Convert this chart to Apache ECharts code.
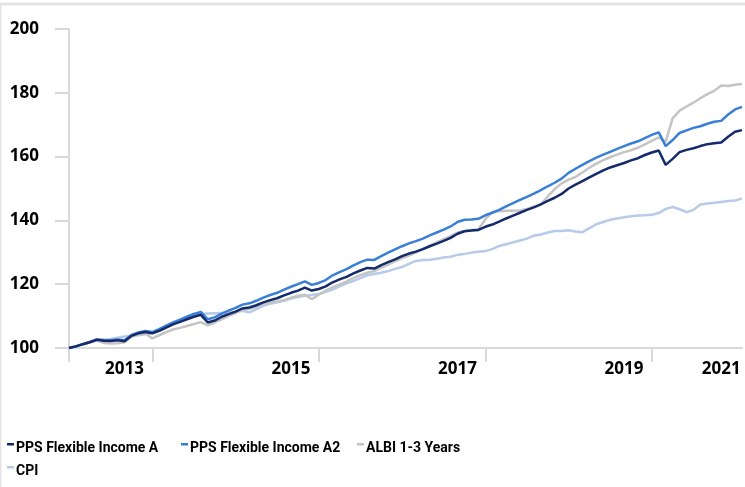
<!DOCTYPE html>
<html>
<head>
<meta charset="utf-8">
<script src="https://cdn.jsdelivr.net/npm/echarts@6/dist/echarts.min.js"></script>
<style>
html,body{margin:0;padding:0;background:#fff;}
#chart{width:745px;height:487px;}
</style>
</head>
<body>
<div id="chart"></div>
<script>
const months = [
'2013-01','2013-02','2013-03','2013-04','2013-05','2013-06','2013-07','2013-08','2013-09','2013-10','2013-11','2013-12',
'2014-01','2014-02','2014-03','2014-04','2014-05','2014-06','2014-07','2014-08','2014-09','2014-10','2014-11','2014-12',
'2015-01','2015-02','2015-03','2015-04','2015-05','2015-06','2015-07','2015-08','2015-09','2015-10','2015-11','2015-12',
'2016-01','2016-02','2016-03','2016-04','2016-05','2016-06','2016-07','2016-08','2016-09','2016-10','2016-11','2016-12',
'2017-01','2017-02','2017-03','2017-04','2017-05','2017-06','2017-07','2017-08','2017-09','2017-10','2017-11','2017-12',
'2018-01','2018-02','2018-03','2018-04','2018-05','2018-06','2018-07','2018-08','2018-09','2018-10','2018-11','2018-12',
'2019-01','2019-02','2019-03','2019-04','2019-05','2019-06','2019-07','2019-08','2019-09','2019-10','2019-11','2019-12',
'2020-01','2020-02','2020-03','2020-04','2020-05','2020-06','2020-07','2020-08','2020-09','2020-10','2020-11','2020-12',
'2021-01','2021-02'
];

const ppsA = [
100.0,100.5,101.2,101.8,102.6,102.3,102.2,102.4,102.1,103.8,104.6,105.0,
104.6,105.4,106.4,107.4,108.2,109.0,109.8,110.4,108.0,108.6,109.8,110.6,
111.4,112.4,112.7,113.4,114.3,115.0,115.6,116.5,117.3,118.0,118.9,118.0,
118.5,119.3,120.6,121.5,122.3,123.4,124.3,125.1,124.9,126.0,126.9,127.8,
128.8,129.6,130.2,131.0,131.9,132.7,133.6,134.5,135.8,136.6,136.8,137.0,
138.0,138.7,139.6,140.6,141.5,142.4,143.3,144.1,145.0,146.1,147.1,148.3,
150.0,151.2,152.3,153.5,154.6,155.7,156.6,157.3,158.0,158.8,159.5,160.5,
161.3,161.9,157.4,159.3,161.4,162.1,162.6,163.3,163.9,164.2,164.4,166.2,
167.8,168.3
];

const ppsA2 = [
100.0,100.5,101.2,101.9,102.7,102.5,102.4,102.7,102.4,104.1,104.9,105.3,
105.0,105.9,107.0,108.0,108.9,109.8,110.7,111.3,109.0,109.6,110.8,111.7,
112.6,113.6,114.0,114.8,115.8,116.6,117.3,118.3,119.2,120.0,120.9,119.8,
120.4,121.3,122.8,123.8,124.7,125.9,126.9,127.7,127.6,128.8,129.9,130.9,
131.9,132.8,133.5,134.3,135.3,136.2,137.1,138.1,139.5,140.2,140.3,140.5,
141.6,142.4,143.3,144.4,145.4,146.4,147.4,148.4,149.5,150.7,151.8,153.1,
154.9,156.2,157.4,158.6,159.7,160.6,161.5,162.4,163.3,164.1,164.8,165.8,
166.8,167.6,163.3,165.2,167.4,168.2,169.0,169.5,170.3,170.9,171.2,173.2,
174.8,175.6
];

const albi = [
100.0,100.6,101.3,101.9,102.4,101.6,101.4,101.5,101.8,103.5,104.3,104.6,
103.0,104.0,105.0,105.8,106.3,106.9,107.5,108.1,107.1,108.0,109.0,110.1,
110.9,112.0,112.3,113.0,113.9,114.4,114.6,115.0,115.8,116.4,116.7,115.3,
116.7,118.0,119.1,119.9,120.8,122.0,122.8,123.6,124.1,125.2,126.1,127.2,
128.2,129.0,130.0,131.0,132.1,133.1,134.1,135.1,136.2,136.7,137.0,137.2,
140.3,142.6,142.9,143.0,143.0,143.1,143.6,144.3,145.0,147.5,149.8,151.6,
152.8,153.6,155.0,156.5,157.8,158.9,159.8,160.6,161.4,162.0,162.8,163.8,
164.9,166.0,164.7,172.0,174.4,175.7,176.9,178.3,179.6,180.6,182.3,182.1,
182.5,182.8
];

const cpi = [
100.0,100.5,101.2,101.8,102.4,102.6,102.8,103.2,103.6,103.8,104.0,104.3,
104.8,105.6,106.7,107.6,108.5,109.4,110.2,110.6,110.8,110.9,111.0,111.1,
111.3,111.7,111.2,112.2,113.2,113.9,114.3,114.8,115.5,116.0,116.4,116.6,
116.9,117.6,118.3,119.3,120.3,121.0,121.9,122.8,123.2,123.6,124.1,124.8,
125.4,126.4,127.3,127.6,127.7,128.0,128.4,128.6,129.2,129.5,129.9,130.2,
130.4,131.0,132.0,132.5,133.1,133.7,134.3,135.2,135.6,136.2,136.7,136.7,
136.9,136.5,136.3,137.6,138.8,139.5,140.2,140.6,141.0,141.3,141.5,141.6,
141.8,142.3,143.6,144.2,143.5,142.6,143.3,145.0,145.3,145.5,145.8,146.1,
146.2,146.9
];

const seriesNames = ['PPS Flexible Income A','PPS Flexible Income A2','ALBI 1-3 Years','CPI'];
const yTicks = [100, 120, 140, 160, 180, 200];
const xLabelMap = {'2013-09':'2013','2015-09':'2015','2017-09':'2017','2019-09':'2019','2020-11':'2021'};
const xTickMonths = ['2013-01','2014-01','2016-01','2018-01','2020-01'];

const colors = ['#152a6b', '#3a7fd6', '#c4c4c4', '#b6cae9'];
const axisFont = '"Noto Sans", "Open Sans", sans-serif';
const legendFont = 'Roboto, "Liberation Sans", sans-serif';

const chart = echarts.init(document.getElementById('chart'), null, {renderer: 'canvas'});

const iconPath = 'path://M0,0H7V2.5H0Z M0,9.99H0.01V10H0Z';
function mkLegend(name, left, top) {
  return {
    data: [name], left: left, top: top, orient: 'horizontal',
    itemWidth: 7, itemHeight: 10, icon: iconPath, padding: 0,
    selectedMode: false,
    textStyle: {fontFamily: legendFont, fontWeight: 'bold', fontSize: 14, color: '#000', padding: [0,0,0,-3]}
  };
}

const option = {
  animation: false,
  backgroundColor: '#fff',
  color: colors,
  graphic: [
    {type: 'line', shape: {x1: 0, y1: 4, x2: 745, y2: 4}, style: {stroke: '#e3e3e3', lineWidth: 3}, silent: true},
    {type: 'line', shape: {x1: 0.5, y1: 4, x2: 0.5, y2: 487}, style: {stroke: '#e3e3e3', lineWidth: 2}, silent: true}
  ],
  grid: {left: 69, right: 3, top: 29, bottom: 139, containLabel: false},
  legend: [
    mkLegend(seriesNames[0], 7, 441),
    mkLegend(seriesNames[1], 181, 441),
    mkLegend(seriesNames[2], 357, 441),
    mkLegend(seriesNames[3], 7, 464)
  ],
  xAxis: {
    type: 'category',
    data: months,
    boundaryGap: false,
    axisLine: {show: true, lineStyle: {color: '#d9d9d9', width: 2}},
    axisTick: {show: true, length: 14, lineStyle: {color: '#d9d9d9', width: 2},
      interval: function (i, v) { return xTickMonths.indexOf(v) >= 0; }},
    axisLabel: {
      interval: function (i, v) { return xLabelMap[v] !== undefined; },
      formatter: function (v) { return xLabelMap[v] || ''; },
      fontFamily: axisFont, fontWeight: 'bold', fontSize: 17, color: '#000', margin: 13
    },
    splitLine: {show: false}
  },
  yAxis: {
    type: 'value',
    min: yTicks[0], max: yTicks[yTicks.length - 1], interval: 20,
    axisLine: {show: true, lineStyle: {color: '#d9d9d9', width: 2}},
    axisTick: {show: true, length: 14, lineStyle: {color: '#d9d9d9', width: 2}},
    axisLabel: {fontFamily: axisFont, fontWeight: 'bold', fontSize: 17, color: '#000', margin: 30},
    splitLine: {show: false}
  },
  series: [
    {name: seriesNames[3], type: 'line', data: cpi, showSymbol: false, lineStyle: {width: 2.5, color: colors[3]}, itemStyle: {color: colors[3]}, z: 2},
    {name: seriesNames[2], type: 'line', data: albi, showSymbol: false, lineStyle: {width: 2.5, color: colors[2]}, itemStyle: {color: colors[2]}, z: 3},
    {name: seriesNames[1], type: 'line', data: ppsA2, showSymbol: false, lineStyle: {width: 2.5, color: colors[1]}, itemStyle: {color: colors[1]}, z: 4},
    {name: seriesNames[0], type: 'line', data: ppsA, showSymbol: false, lineStyle: {width: 2.5, color: colors[0]}, itemStyle: {color: colors[0]}, z: 5}
  ]
};
chart.setOption(option);
</script>
</body>
</html>
